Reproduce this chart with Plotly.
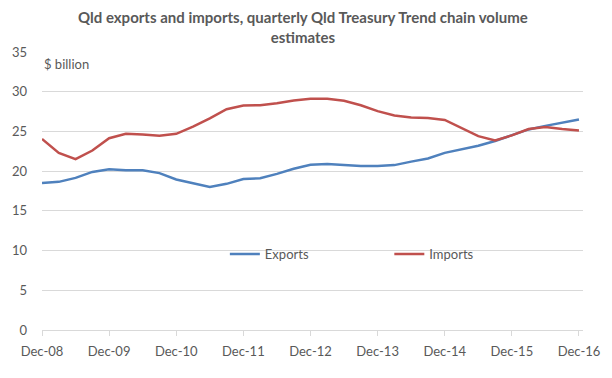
import plotly.graph_objects as go

quarters = []
for yr in range(8, 17):
    for m in ["Mar", "Jun", "Sep", "Dec"]:
        quarters.append(f"{m}-{yr:02d}")
quarters = quarters[3:]  # Dec-08 .. Dec-16 (33 quarters)

exports = [18.5, 18.65, 19.15, 19.9, 20.25, 20.1, 20.1, 19.75, 18.95,
           18.45, 18.0, 18.4, 19.0, 19.1, 19.65, 20.3, 20.8, 20.9, 20.76,
           20.65, 20.64, 20.76, 21.2, 21.6, 22.3, 22.75, 23.2, 23.8, 24.5,
           25.25, 25.7, 26.1, 26.5]
imports = [24.05, 22.3, 21.5, 22.6, 24.15, 24.7, 24.6, 24.45, 24.7,
           25.6, 26.65, 27.8, 28.25, 28.3, 28.56, 28.9, 29.1, 29.1, 28.85,
           28.3, 27.55, 27.0, 26.74, 26.7, 26.44, 25.4, 24.4, 23.86, 24.5,
           25.3, 25.55, 25.3, 25.13]
tick_labels = ["Dec-08", "Dec-09", "Dec-10", "Dec-11", "Dec-12",
               "Dec-13", "Dec-14", "Dec-15", "Dec-16"]
y_ticks = [0, 5, 10, 15, 20, 25, 30, 35]

grey = "#595959"
font = "Lato"

fig = go.Figure()
fig.add_trace(go.Scatter(x=quarters, y=exports, mode="lines", name="Exports",
                         legend="legend",
                         line=dict(color="#4f81bd", width=2.5)))
fig.add_trace(go.Scatter(x=quarters, y=imports, mode="lines", name="Imports",
                         legend="legend2",
                         line=dict(color="#c0504d", width=2.5)))

leg_common = dict(orientation="h", yanchor="middle", xanchor="left",
                  itemwidth=30, font=dict(family=font, size=13, color=grey),
                  bgcolor="rgba(0,0,0,0)", borderwidth=0)

fig.update_layout(
    width=612, height=378,
    margin=dict(l=40, r=24, t=52, b=48),
    paper_bgcolor="white", plot_bgcolor="white",
    font=dict(family=font, size=13, color=grey),
    showlegend=True,
    legend=dict(x=0.338, y=0.273, **leg_common),
    legend2=dict(x=0.642, y=0.273, **leg_common),
    xaxis=dict(type="category", categoryorder="array", categoryarray=quarters,
               range=[0, 32.24], tickmode="array",
               tickvals=quarters[::4], ticktext=tick_labels,
               showgrid=False, showline=True, linecolor="#d9d9d9", linewidth=1,
               ticks="outside", ticklen=5, tickcolor="#d9d9d9",
               ticklabelstandoff=4,
               tickfont=dict(family=font, size=13, color=grey), zeroline=False),
    yaxis=dict(range=[0, 35], tickvals=y_ticks, showgrid=True, gridcolor="#d9d9d9",
               gridwidth=1, zeroline=False, showline=False, ticks="",
               ticklabelstandoff=14,
               tickfont=dict(family=font, size=13, color=grey)),
)
fig.add_annotation(text="<b>Qld exports and imports, quarterly Qld Treasury Trend chain volume<br>estimates</b>",
                   xref="paper", yref="paper", x=0.483, y=1.165,
                   xanchor="center", yanchor="top", showarrow=False,
                   font=dict(family=font, size=15, color=grey))
fig.add_annotation(text="$ billion", xref="paper", yref="paper", x=0.0, y=0.957,
                   xanchor="left", yanchor="middle", showarrow=False,
                   font=dict(family=font, size=13, color=grey))

fig.write_html("out.html", config={"displayModeBar": False},
               post_script="document.body.style.margin='0';")
